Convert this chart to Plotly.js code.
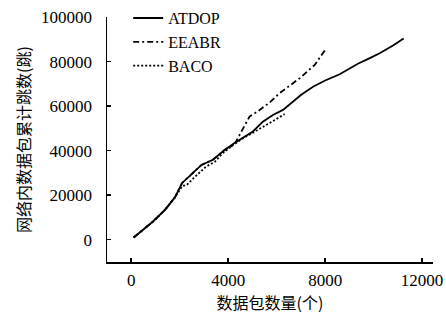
<!DOCTYPE html>
<html>
<head>
<meta charset="utf-8">
<script src="https://cdn.plot.ly/plotly-3.0.1.min.js"></script>
<style>html,body{margin:0;padding:0;background:#fff;}#chart{width:446px;height:320px;}</style>
</head>
<body>
<div id="chart"></div>
<script>
const atdopX = [100, 500, 900, 1400, 1800, 2100, 2500, 2900, 3370, 3850, 4260, 4650, 5020, 5430, 5845, 6260, 6670, 7000, 7500, 8000, 8600, 9350, 9800, 10250, 10800, 11240];
const atdopY = [1000, 4500, 8200, 13500, 19000, 25500, 29500, 33600, 35900, 40300, 43400, 46000, 48600, 53000, 56000, 58300, 62000, 65000, 68700, 71500, 74300, 79000, 81300, 83700, 87200, 90400];
const eeabrX = [100, 500, 900, 1400, 1800, 2100, 2500, 2900, 3370, 3850, 4260, 4500, 4880, 5200, 5370, 5700, 6120, 6500, 6950, 7570, 8050];
const eeabrY = [1000, 4500, 8200, 13500, 19000, 25500, 29500, 33600, 35900, 40300, 42800, 47500, 55300, 57500, 59000, 61500, 65800, 69000, 72500, 78500, 86000];
const bacoX = [100, 500, 900, 1400, 1800, 2100, 2300, 2700, 3100, 3450, 3780, 4200, 4610, 5100, 5570, 5950, 6330];
const bacoY = [1000, 4500, 8200, 13500, 19000, 24000, 24700, 29000, 32900, 35000, 38900, 42500, 45600, 48500, 51600, 53800, 56400];
const names = ['ATDOP', 'EEABR', 'BACO'];
const xTicks = [0, 4000, 8000, 12000];
const yTicks = [0, 20000, 40000, 60000, 80000, 100000];

const serif = 'Liberation Serif, DejaVu Serif, serif';
const traces = [
  {x: atdopX, y: atdopY, name: names[0], mode: 'lines', line: {color: '#000', width: 1.8, dash: 'solid'}},
  {x: eeabrX, y: eeabrY, name: names[1], mode: 'lines', line: {color: '#000', width: 1.8, dash: '6px,3px,2px,3px'}},
  {x: bacoX, y: bacoY, name: names[2], mode: 'lines', line: {color: '#000', width: 1.8, dash: '2px,2px'}}
];
const layout = {
  width: 446, height: 320,
  margin: {l: 107, r: 13, t: 17, b: 58, autoexpand: false},
  paper_bgcolor: '#fff', plot_bgcolor: '#fff',
  font: {family: serif, size: 17, color: '#000'},
  showlegend: true,
  legend: {x: 0.065, y: 1.065, xanchor: 'left', yanchor: 'top', bgcolor: 'rgba(0,0,0,0)', font: {family: serif, size: 16}, tracegroupgap: 0, itemwidth: 30},
  xaxis: {
    range: [-1000, 12450], tickvals: xTicks, ticktext: xTicks.map(String),
    ticks: 'inside', ticklen: 4, tickwidth: 1.5, tickcolor: '#000',
    showline: true, linecolor: '#000', linewidth: 1.5, showgrid: false, zeroline: false,
    tickfont: {family: serif, size: 17}, ticklabelstandoff: 2,
    title: {text: '数据包数量(个)', font: {family: 'Noto Sans CJK SC', size: 16}, standoff: 4}
  },
  yaxis: {
    range: [-10000, 100000], tickvals: yTicks, ticktext: yTicks.map(String),
    ticks: 'inside', ticklen: 4, tickwidth: 1.5, tickcolor: '#000',
    showline: true, linecolor: '#000', linewidth: 1.5, showgrid: false, zeroline: false,
    tickfont: {family: serif, size: 17}, ticklabelstandoff: 10,
    title: {text: '网络内数据包累计跳数(跳)', font: {family: 'Noto Sans CJK SC', size: 16}, standoff: 6}
  }
};
Plotly.newPlot('chart', traces, layout, {staticPlot: true, displayModeBar: false});
</script>
</body>
</html>
